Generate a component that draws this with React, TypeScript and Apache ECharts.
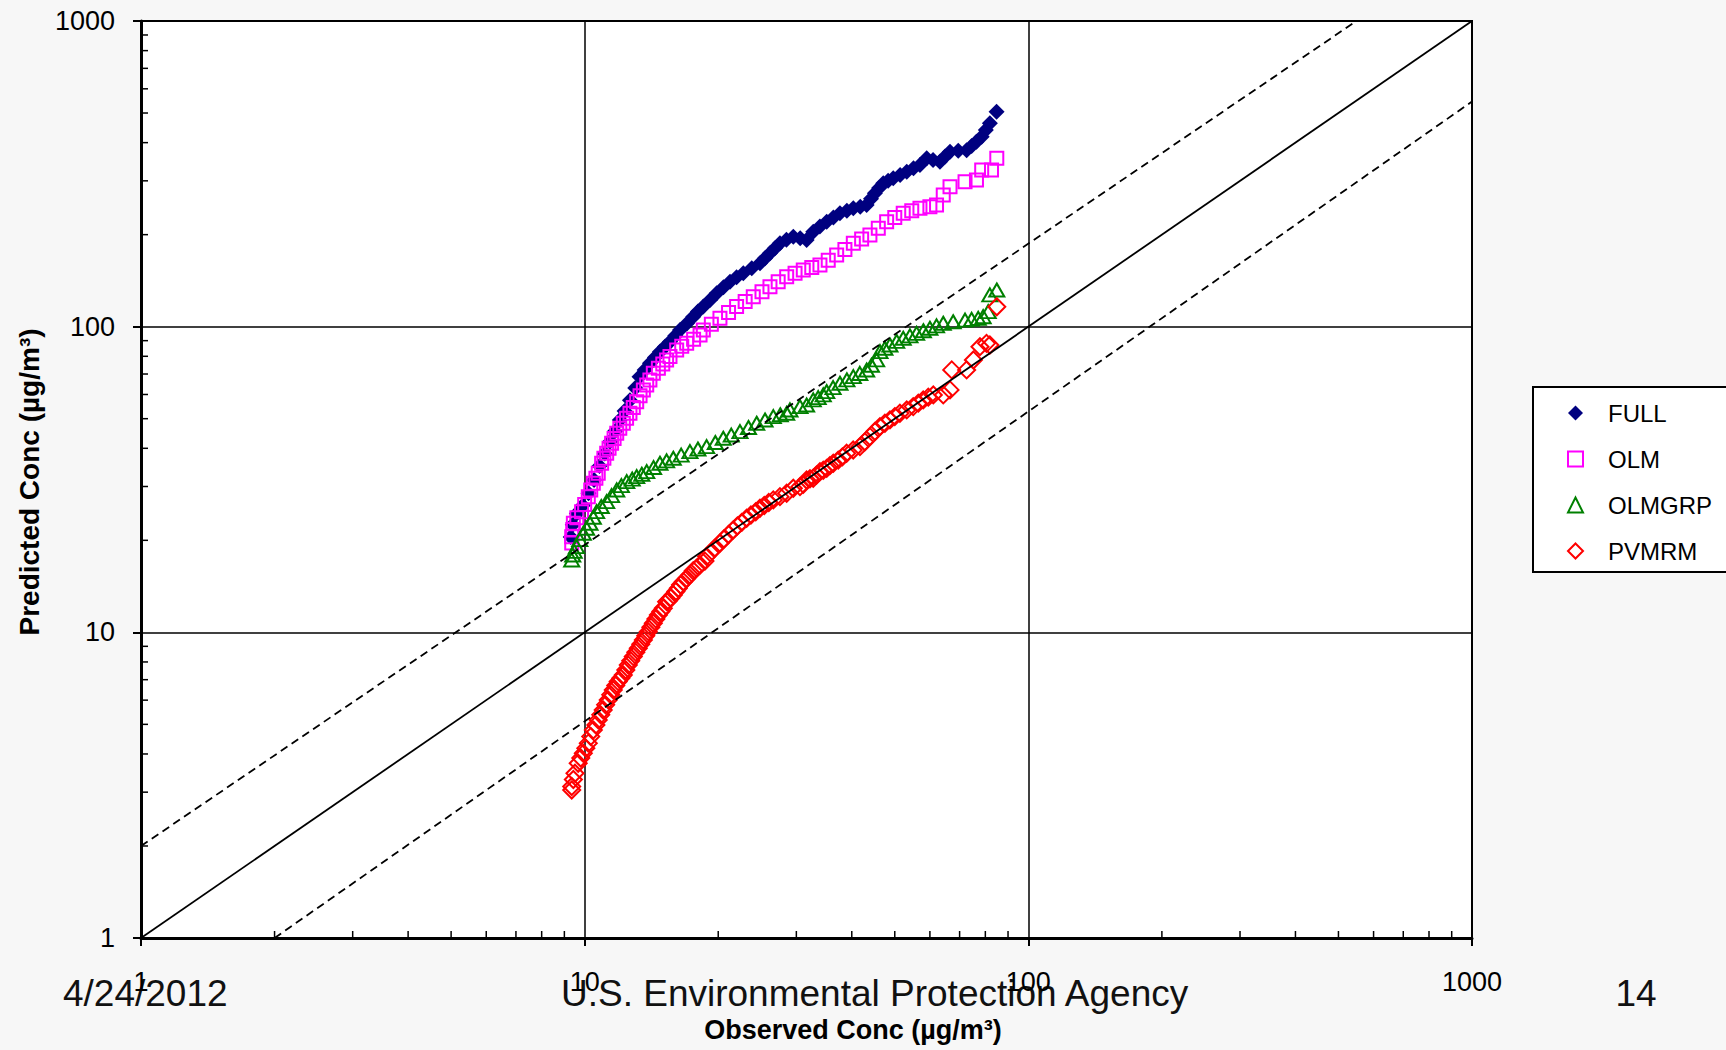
import React, { useEffect, useRef } from "react";
import * as echarts from "echarts";

// ---- data (observed conc, predicted conc) ----
const seriesNames = ["FULL", "OLM", "OLMGRP", "PVMRM"];

const fullData = [
  [9.3, 20.5], [9.4, 22.5], [9.6, 24.5], [9.9, 26], [10.2, 28.5], [10.5, 31.5], [10.8, 35],
  [11.1, 38.5], [11.4, 42], [11.7, 45.5], [12.0, 49.5], [12.3, 53], [12.65, 57.5], [13.0, 63],
  [13.29, 68.6], [13.65, 72.2], [14.03, 75.9], [14.4, 79.3], [14.78, 82.8], [15.17, 86.0],
  [15.57, 89.3], [16.0, 93.4], [16.4, 97.5], [17.0, 102.5], [17.57, 107.8], [18.0, 112.0],
  [18.51, 116.3], [19.2, 122.5], [19.84, 128.6], [20.55, 134.5], [21.26, 140.3], [22.0, 145.0],
  [22.78, 149.5], [23.8, 155.3], [24.84, 161.2], [25.5, 167.5], [26.16, 173.9], [26.85, 180.5],
  [27.55, 187.4], [28.5, 192.5], [29.53, 197], [30.6, 194.5], [31.64, 192], [32.75, 204.6],
  [33.9, 212.5], [35.12, 220.6], [36.35, 227.5], [37.62, 234.9], [39.0, 239.5], [40.32, 244],
  [41.8, 247], [43.21, 250], [44.2, 262], [45.1, 273.2], [46.1, 284], [47.1, 294.5], [48.3, 300],
  [49.6, 306], [51.4, 313.5], [53.2, 321.4], [55.1, 330], [56.98, 338], [59.0, 355.6], [61.0, 351],
  [63.2, 346.5], [64.9, 360], [66.6, 373.6], [69.5, 376], [72.6, 378], [74.5, 390], [76.4, 403],
  [78.5, 418], [80.2, 440], [81.9, 462.6], [84.8, 505],
];

const olmData = [
  [9.35, 19.6], [9.35, 20.56], [9.4, 21.7], [9.43, 22.75], [9.6, 23.7], [9.84, 24.82], [10.0, 26.2],
  [10.19, 27.79], [10.32, 29.2], [10.46, 30.74], [10.6, 31.9], [10.73, 33.14], [10.92, 35.74],
  [11.05, 37.1], [11.21, 38.53], [11.35, 40.0], [11.5, 41.54], [11.65, 43.1], [11.81, 44.81],
  [12.0, 46.5], [12.22, 48.31], [12.43, 50.2], [12.65, 52.09], [12.87, 54.4], [13.1, 56.84],
  [13.33, 59.4], [13.56, 62.08], [13.8, 64.5], [14.03, 66.94], [14.28, 70.4], [14.66, 73.08],
  [15.0, 75.5], [15.3, 77.8], [15.57, 79.8], [16.12, 83.9], [16.55, 86.3], [16.98, 88.2],
  [17.6, 91.0], [18.2, 93.9], [18.51, 97.5], [19.3, 101.8], [20.18, 106.5], [21.1, 111.3],
  [22.0, 116.3], [23.0, 120.8], [23.99, 125.3], [25.1, 130.0], [26.16, 135.1], [27.3, 140.3],
  [28.53, 145.7], [29.8, 149.6], [31.1, 153.3], [32.5, 156.3], [33.91, 159.2], [35.4, 165.0],
  [36.98, 171.6], [38.6, 179.0], [40.32, 187.4], [42.1, 193.5], [43.95, 199.5], [45.9, 210.0],
  [47.93, 220.6], [50.0, 227.5], [52.24, 234.9], [54.6, 239.5], [56.98, 244], [60.0, 247],
  [62.1, 250], [64.3, 269.6], [66.6, 287], [72.0, 298], [76.4, 302], [78.5, 325.6], [82.6, 325.6],
  [84.9, 355.5],
];

const olmgrpData = [
  [9.35, 17.25], [9.4, 17.9], [9.47, 18.4], [9.59, 19.07], [9.75, 20.1], [9.93, 21.1], [10.1, 21.9],
  [10.28, 22.75], [10.46, 23.8], [10.64, 24.82], [10.9, 25.8], [11.21, 26.77], [11.5, 28.0],
  [11.81, 29.23], [12.1, 30.2], [12.44, 31.12], [12.8, 31.7], [13.1, 32.31], [13.45, 32.9],
  [13.8, 33.55], [14.3, 34.6], [14.78, 35.74], [15.3, 36.4], [15.84, 37.11], [16.5, 38.0],
  [17.27, 39.0], [18.0, 39.8], [18.83, 40.5], [19.7, 41.8], [20.53, 43.14], [21.4, 44.2],
  [22.39, 45.35], [23.4, 46.8], [24.42, 48.31], [25.5, 49.5], [26.62, 50.76], [27.6, 51.5],
  [28.53, 52.09], [29.02, 53.4], [30.57, 54.76], [31.64, 55.44], [32.75, 57.58], [33.6, 58.6],
  [34.5, 59.79], [35.12, 61.3], [36.3, 63.2], [37.62, 65.29], [39.0, 67.0], [40.32, 68.61],
  [41.7, 70.3], [43.21, 72.17], [44.3, 74.8], [45.51, 77.83], [46.3, 82.83], [47.5, 85.0],
  [48.76, 87.11], [50.5, 89.5], [52.24, 91.65], [54.1, 93.3], [56.0, 95.1], [58.0, 97.0],
  [60.0, 98.8], [62.1, 100.6], [64.3, 102.6], [67.7, 103.8], [72.0, 105.0], [74.5, 105.7],
  [77.1, 106.5], [79.1, 107.8], [81.2, 112.0], [81.9, 127.0], [84.9, 131.8],
];

const pvmrmData = [
  [9.35, 3.05], [9.35, 3.13], [9.43, 3.3], [9.51, 3.46], [9.67, 3.73], [9.8, 3.88], [9.93, 4.02],
  [10.06, 4.18], [10.19, 4.34], [10.32, 4.56], [10.46, 4.79], [10.6, 4.98], [10.73, 5.17],
  [10.87, 5.37], [11.01, 5.57], [11.15, 5.79], [11.3, 6.01], [11.45, 6.25], [11.6, 6.48],
  [11.75, 6.7], [11.9, 6.9], [12.06, 7.08], [12.22, 7.25], [12.38, 7.53], [12.54, 7.82],
  [12.7, 8.07], [12.87, 8.33], [13.04, 8.6], [13.21, 8.87], [13.38, 9.15], [13.56, 9.44],
  [13.73, 9.74], [13.91, 10.05], [14.1, 10.4], [14.28, 10.71], [14.47, 11.05], [14.66, 11.4],
  [14.85, 11.7], [15.04, 11.99], [15.3, 12.6], [15.44, 12.68], [15.64, 12.95], [15.84, 13.26],
  [16.05, 13.6], [16.26, 13.94], [16.45, 14.3], [16.69, 14.65], [16.98, 15.0], [17.27, 15.41],
  [17.57, 15.9], [17.88, 16.21], [18.2, 16.6], [18.67, 17.1], [18.83, 17.69], [19.2, 18.2],
  [19.6, 18.8], [20.18, 19.56], [20.6, 20.2], [21.1, 20.9], [21.63, 21.63], [22.1, 22.3],
  [22.6, 22.9], [23.18, 23.62], [23.7, 24.2], [24.3, 24.8], [24.84, 25.47], [25.4, 26.0],
  [26.0, 26.6], [26.62, 27.12], [27.55, 27.79], [28.53, 28.51], [29.53, 29.6], [30.57, 29.97],
  [31.1, 30.5], [31.64, 31.51], [32.2, 31.8], [32.75, 31.92], [33.3, 32.7], [33.91, 33.55],
  [34.5, 33.9], [35.12, 34.4], [35.7, 35.1], [36.34, 35.74], [37.29, 36.6], [38.1, 37.5],
  [38.94, 38.53], [40.3, 39.5], [41.73, 40.5], [42.8, 42.0], [43.95, 43.67], [45.1, 45.4],
  [46.3, 47.1], [47.5, 48.3], [48.76, 49.53], [50.0, 50.8], [51.35, 52.09], [53.2, 53.4],
  [55.03, 54.76], [56.5, 56.2], [57.96, 57.58], [59.5, 58.8], [61.07, 59.79], [64.3, 59.8],
  [66.6, 62.1], [67.2, 72.2], [72.6, 72.2], [75.2, 77.8], [77.8, 86.0], [80.5, 88.2], [81.9, 87.1],
  [84.9, 116.2],
];

// reference lines
const oneToOneLine = [[1, 1], [1000, 1000]];
const upperFactorLine = [[1, 2], [549, 1000]];
const lowerFactorLine = [[2, 1], [1000, 545]];

// minor tick values (both axes)
const minorTickValues = [2, 3, 4, 5, 6, 7, 8, 9, 20, 30, 40, 50, 60, 70, 80, 90, 200, 300, 400, 500, 600, 700, 800, 900];

// texts
const xAxisTitle = "Observed Conc (µg/m³)";
const yAxisTitle = "Predicted Conc (µg/m³)";
const footerDate = "4/24/2012";
const footerAgency = "U.S. Environmental Protection Agency";
const footerPage = "14";

const FONT = '"Liberation Sans", Arial, sans-serif';
const HOLLOW = "rgba(255,255,255,0)";

export default function App() {
  const ref = useRef<HTMLDivElement>(null);

  useEffect(() => {
    document.body.style.margin = "0";
    if (!ref.current) return;
    const chart = echarts.init(ref.current, undefined, { renderer: "svg" });

    const axisCommon = {
      type: "log",
      logBase: 10,
      min: 1,
      max: 1000,
      axisLine: { show: true, onZero: false, lineStyle: { color: "#000", width: 3 } },
      axisTick: { show: true, inside: false, length: 8, lineStyle: { color: "#000", width: 2 } },
      splitLine: { show: true, lineStyle: { color: "#000", width: 1.5 } },
      minorTick: { show: false },
      minorSplitLine: { show: false },
    };
    const labelFormatter = (v: number) => String(Math.round(v));

    const option: any = {
      animation: false,
      backgroundColor: "#f7f7f7",
      textStyle: { fontFamily: FONT },
      grid: {
        left: 141,
        top: 21,
        width: 1331,
        height: 917,
        show: true,
        backgroundColor: "#ffffff",
        borderColor: "#000",
        borderWidth: 2,
      },
      xAxis: {
        ...axisCommon,
        axisLabel: { color: "#000", fontSize: 27, fontFamily: FONT, margin: 30, formatter: labelFormatter },
      },
      yAxis: {
        ...axisCommon,
        axisLabel: { color: "#000", fontSize: 27, fontFamily: FONT, margin: 26, formatter: labelFormatter },
      },
      legend: {
        orient: "vertical",
        left: 1567,
        top: 401,
        padding: 0,
        itemWidth: 15,
        itemHeight: 15,
        itemGap: 22,
        selectedMode: false,
        textStyle: { color: "#000", fontSize: 24, fontFamily: FONT, lineHeight: 24, padding: [0, 0, 0, 20] },
        data: [
          { name: seriesNames[0], icon: "diamond", itemStyle: { color: "#000080", borderWidth: 0 } },
          { name: seriesNames[1], icon: "rect", itemStyle: { color: HOLLOW, borderColor: "#ff00ff", borderWidth: 2 } },
          { name: seriesNames[2], icon: "triangle", itemStyle: { color: HOLLOW, borderColor: "#008000", borderWidth: 2 } },
          { name: seriesNames[3], icon: "diamond", itemStyle: { color: HOLLOW, borderColor: "#ff0000", borderWidth: 2 } },
        ],
      },
      graphic: [
        {
          type: "rect",
          z: 0,
          shape: { x: 1533, y: 387, width: 260, height: 185 },
          style: { fill: "#ffffff", stroke: "#000", lineWidth: 2 },
        },
        {
          type: "text",
          x: 29,
          y: 482,
          rotation: Math.PI / 2,
          style: { text: yAxisTitle, font: `bold 28px ${FONT}`, fill: "#000", align: "center", verticalAlign: "middle" },
        },
        {
          type: "text",
          x: 853,
          y: 1030,
          style: { text: xAxisTitle, font: `bold 27px ${FONT}`, fill: "#000", align: "center", verticalAlign: "middle" },
        },
        {
          type: "text",
          x: 63,
          y: 993,
          style: { text: footerDate, font: `37px ${FONT}`, fill: "#111", align: "left", verticalAlign: "middle" },
        },
        {
          type: "text",
          x: 561,
          y: 993,
          style: { text: footerAgency, font: `37px ${FONT}`, fill: "#111", align: "left", verticalAlign: "middle" },
        },
        {
          type: "text",
          x: 1636,
          y: 993,
          style: { text: footerPage, font: `37px ${FONT}`, fill: "#111", align: "center", verticalAlign: "middle" },
        },
      ],
      series: [
        {
          name: seriesNames[0],
          type: "scatter",
          data: fullData,
          symbol: "diamond",
          symbolSize: 16,
          itemStyle: { color: "#000080", opacity: 1 },
        },
        {
          name: seriesNames[1],
          type: "scatter",
          data: olmData,
          symbol: "rect",
          symbolSize: 13,
          itemStyle: { color: HOLLOW, borderColor: "#ff00ff", borderWidth: 2, opacity: 1 },
        },
        {
          name: seriesNames[2],
          type: "scatter",
          data: olmgrpData,
          symbol: "triangle",
          symbolSize: [15, 13],
          itemStyle: { color: HOLLOW, borderColor: "#008000", borderWidth: 2, opacity: 1 },
        },
        {
          name: seriesNames[3],
          type: "scatter",
          data: pvmrmData,
          symbol: "diamond",
          symbolSize: 17,
          itemStyle: { color: HOLLOW, borderColor: "#ff0000", borderWidth: 2, opacity: 1 },
        },
        {
          name: "1:1",
          type: "line",
          data: oneToOneLine,
          symbol: "none",
          silent: true,
          lineStyle: { color: "#000", width: 1.8, type: "solid" },
        },
        {
          name: "2x",
          type: "line",
          data: upperFactorLine,
          symbol: "none",
          silent: true,
          lineStyle: { color: "#000", width: 1.8, type: [8, 5] },
        },
        {
          name: "0.5x",
          type: "line",
          data: lowerFactorLine,
          symbol: "none",
          silent: true,
          lineStyle: { color: "#000", width: 1.8, type: [8, 5] },
        },
        {
          name: "xMinor",
          type: "custom",
          silent: true,
          clip: false,
          z: 5,
          data: minorTickValues.map((v) => [v, 1]),
          encode: { x: 0, y: 1 },
          renderItem: (params: any, api: any) => {
            const p = api.coord([api.value(0), api.value(1)]);
            return {
              type: "line",
              shape: { x1: p[0], y1: p[1], x2: p[0], y2: p[1] - 7 },
              style: { stroke: "#000", lineWidth: 1.5 },
            };
          },
        },
        {
          name: "yMinor",
          type: "custom",
          silent: true,
          clip: false,
          z: 5,
          data: minorTickValues.map((v) => [1, v]),
          encode: { x: 0, y: 1 },
          renderItem: (params: any, api: any) => {
            const p = api.coord([api.value(0), api.value(1)]);
            return {
              type: "line",
              shape: { x1: p[0], y1: p[1], x2: p[0] + 7, y2: p[1] },
              style: { stroke: "#000", lineWidth: 1.5 },
            };
          },
        },
      ],
    };

    chart.setOption(option);
    return () => chart.dispose();
  }, []);

  return (
    <div
      ref={ref}
      style={{ position: "absolute", left: 0, top: 0, width: 1726, height: 1050 }}
    />
  );
}
